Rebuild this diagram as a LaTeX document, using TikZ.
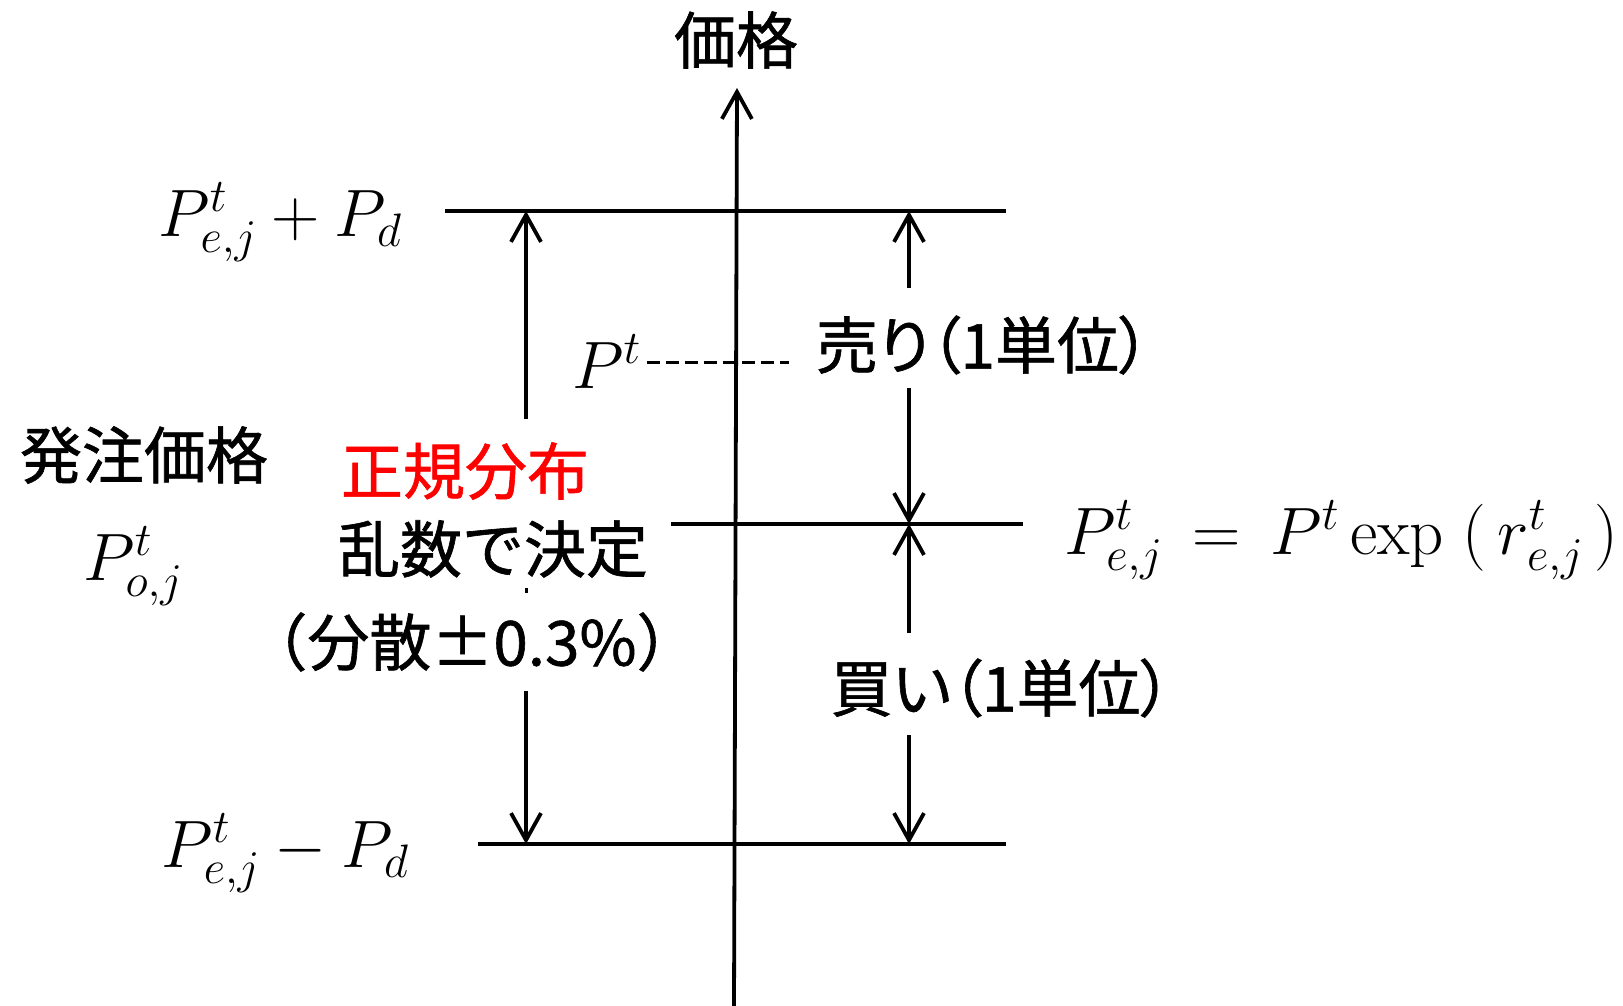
\RequirePackage{fix-cm}
\documentclass[tikz,border=0pt]{standalone}
\usepackage{fontspec}
\newfontfamily\jp[FakeBold=1]{Noto Sans CJK JP}
\newfontfamily\jpp[RawFeature=+palt,FakeBold=1]{Noto Sans CJK JP}
\usetikzlibrary{arrows.meta}
\begin{document}
\begin{tikzpicture}[x=1pt,y=-1pt,
  lbl/.style={inner sep=0pt, font=\jp\fontsize{62}{66}\selectfont},
  lblp/.style={inner sep=0pt, font=\jpp\fontsize{62}{66}\selectfont},
  mth/.style={inner sep=0pt, anchor=base, font=\fontsize{67}{70}\selectfont},
  ln/.style={line width=4.5pt},
  arr/.style={line width=3.8pt, -{Straight Barb[length=27pt,width=30pt,line width=3.8pt]}},
  dsh/.style={line width=3pt, dash pattern=on 13pt off 6pt}
]
\useasboundingbox[fill=white] (0,0) rectangle (1623,1006);
% text
\node[lbl] (title) at (736,40) {価格};
\node[lbl] (order) at (144,455) {発注価格};
\node[mth] (po) at (133,580) {$P^t_{o,j}$};
\node[lbl, text=red] (normal) at (465,471) {正規分布};
\node[lbl] (rand) at (493,549) {乱数で決定};
\node[lbl] (var) at (472,642) {（分散±0.3\%）};
\node[lblp] (sell) at (983,345) {売り（1単位）};
\node[lblp] (buy) at (1001,688) {買い（1単位）};
\node[mth, anchor=base west] (pt) at (572,388) {$P^t$};
\node[mth] (ptop) at (280,236) {$P^t_{e,j}+P_d$};
\node[mth] (pbot) at (285,867) {$P^t_{e,j}-P_d$};
\node[mth, anchor=base west] (peq) at (1064,554) {$P^t_{e,j}\,=\,P^t\exp\;(\,r^t_{e,j}\,)$};
% coordinates
\coordinate (axbot) at (734,1006);
\coordinate (axtop) at (737,88);
\coordinate (topL) at (445,211); \coordinate (topR) at (1006,211);
\coordinate (midL) at (671,524); \coordinate (midR) at (1023,524);
\coordinate (botL) at (478,844); \coordinate (botR) at (1006,844);
\coordinate (la1) at (526,419); \coordinate (la1t) at (526,211);
\coordinate (la2) at (526,691); \coordinate (la2t) at (526,844);
\coordinate (lm1) at (526,588); \coordinate (lm2) at (526,593);
\coordinate (ra1) at (909,288); \coordinate (ra1t) at (909,211);
\coordinate (ra2) at (909,388); \coordinate (ra2t) at (909,524);
\coordinate (ra3) at (909,633); \coordinate (ra3t) at (909,524);
\coordinate (ra4) at (909,735); \coordinate (ra4t) at (909,844);
\coordinate (dsE) at (789,362);
% lines
\draw[ln] (topL) -- (topR);
\draw[ln] (midL) -- (midR);
\draw[ln] (botL) -- (botR);
\draw[arr] (axbot) -- (axtop);
\draw[arr] (la1) -- (la1t);
\draw[arr] (la2) -- (la2t);
\draw[line width=3pt] (lm1) -- (lm2);
\draw[arr] (ra1) -- (ra1t);
\draw[arr] (ra2) -- (ra2t);
\draw[arr] (ra3) -- (ra3t);
\draw[arr] (ra4) -- (ra4t);
\draw[dsh] (pt.east |- dsE) ++(6,0) -- (dsE);
\end{tikzpicture}
\end{document}
